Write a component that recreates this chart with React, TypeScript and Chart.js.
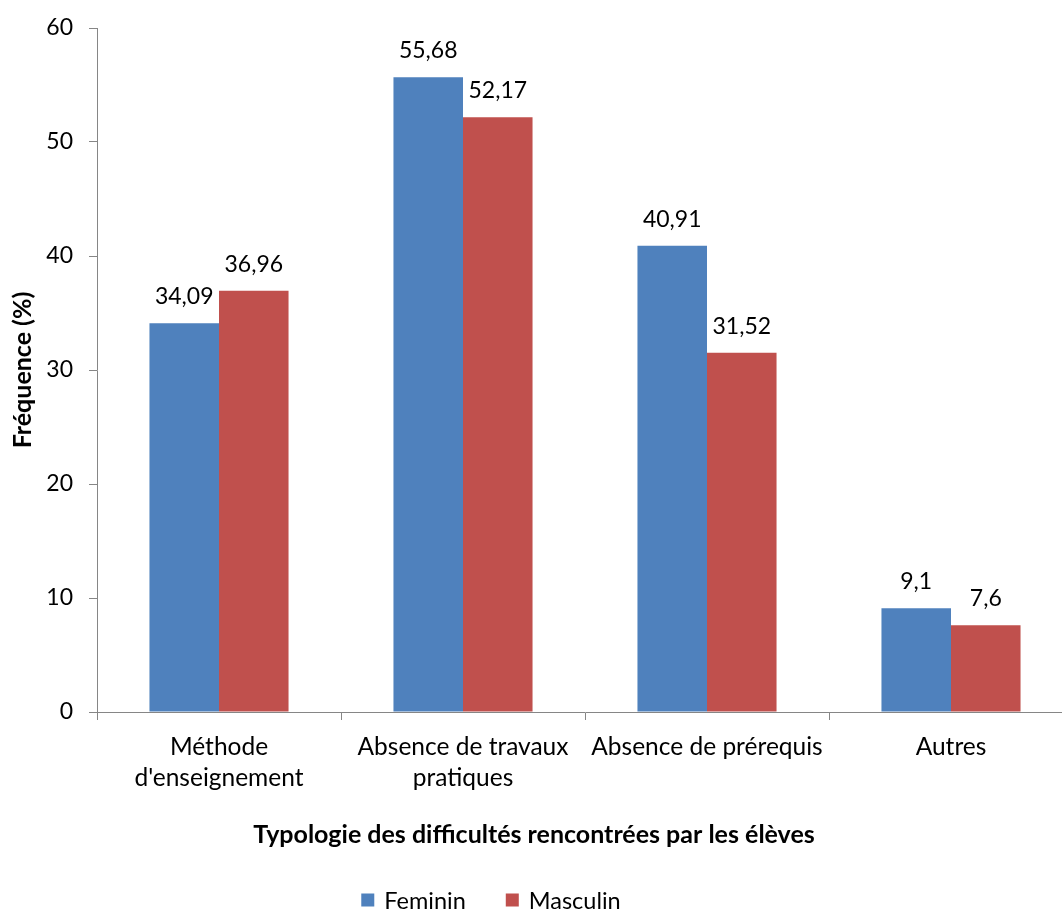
import React, { useEffect, useRef } from 'react';
import { Chart, registerables } from 'chart.js';

Chart.register(...registerables);

// Data
const categories: (string | string[])[] = [
  ['Méthode', "d'enseignement"],
  ['Absence de travaux', 'pratiques'],
  'Absence de prérequis',
  'Autres',
];
const seriesNames = ['Feminin', 'Masculin'];
const feminin = [34.09, 55.68, 40.91, 9.1];
const masculin = [36.96, 52.17, 31.52, 7.6];
const yTicks = [0, 10, 20, 30, 40, 50, 60];
const xTitle = 'Typologie des difficultés rencontrées par les élèves';
const yTitle = 'Fréquence (%)';

const BLUE = '#4F81BD';
const RED = '#C0504D';
const AXIS = '#868686';
const FONT = 'Lato, "Open Sans", sans-serif';

const fmt = (v: number) => String(v).replace('.', ',');

// Value labels above bars, x-axis title and legend drawn on the canvas
const decorations = {
  id: 'decorations',
  afterDatasetsDraw(chart: any) {
    const ctx = chart.ctx as CanvasRenderingContext2D;
    ctx.save();
    ctx.fillStyle = '#000';
    ctx.font = `23px ${FONT}`;
    ctx.textAlign = 'center';
    ctx.textBaseline = 'alphabetic';
    chart.data.datasets.forEach((ds: any, i: number) => {
      const meta = chart.getDatasetMeta(i);
      meta.data.forEach((bar: any, j: number) => {
        ctx.fillText(fmt(ds.data[j]), bar.x, bar.y - 19);
      });
    });
    ctx.restore();
  },
  afterDraw(chart: any) {
    const ctx = chart.ctx as CanvasRenderingContext2D;
    ctx.save();
    // x-axis title
    ctx.fillStyle = '#000';
    ctx.font = `bold 25px ${FONT}`;
    ctx.textAlign = 'center';
    ctx.textBaseline = 'alphabetic';
    ctx.fillText(xTitle, 534, 843);

    // legend
    ctx.font = `23.5px ${FONT}`;
    ctx.textAlign = 'left';
    ctx.textBaseline = 'middle';
    const box = 13;
    const gap = 10;
    const spacing = 40;
    const items = chart.data.datasets.map((ds: any) => ({
      label: ds.label as string,
      color: ds.backgroundColor as string,
      w: box + gap + ctx.measureText(ds.label).width,
    }));
    const total = items.reduce((s: number, it: any) => s + it.w, 0) + spacing * (items.length - 1);
    let x = 491 - total / 2;
    const cy = 900;
    items.forEach((it: any) => {
      ctx.fillStyle = it.color;
      ctx.fillRect(x, cy - box / 2, box, box);
      ctx.fillStyle = '#000';
      ctx.fillText(it.label, x + box + gap, cy + 1);
      x += it.w + spacing;
    });
    ctx.restore();
  },
};

export default function App() {
  const ref = useRef<HTMLCanvasElement | null>(null);

  useEffect(() => {
    if (!ref.current) return;
    const chart = new Chart(ref.current, {
      type: 'bar',
      data: {
        labels: categories,
        datasets: [
          { label: seriesNames[0], data: feminin, backgroundColor: BLUE, borderWidth: 0 },
          { label: seriesNames[1], data: masculin, backgroundColor: RED, borderWidth: 0 },
        ],
      },
      options: {
        responsive: false,
        devicePixelRatio: 1,
        animation: false,
        layout: { padding: { top: 28, right: 1, left: 0, bottom: 0 } },
        datasets: {
          bar: { categoryPercentage: 0.57, barPercentage: 1.0 },
        },
        plugins: {
          legend: { display: false },
          tooltip: { enabled: false },
        },
        scales: {
          x: {
            grid: {
              display: true,
              drawOnChartArea: false,
              offset: true,
              tickLength: 8,
              color: AXIS,
            },
            border: { color: AXIS, width: 1 },
            ticks: {
              color: '#000',
              font: { family: FONT, size: 24.5, lineHeight: 1.25 },
              padding: 12,
              maxRotation: 0,
              autoSkip: false,
            },
            afterFit: (s: any) => {
              s.height = 200;
            },
          },
          y: {
            min: 0,
            max: 60,
            afterBuildTicks: (s: any) => {
              s.ticks = yTicks.map((v) => ({ value: v }));
            },
            grid: {
              display: true,
              drawOnChartArea: false,
              tickLength: 8,
              color: AXIS,
            },
            border: { color: AXIS, width: 1 },
            ticks: {
              color: '#000',
              font: { family: FONT, size: 23 },
              padding: 16,
            },
            title: {
              display: true,
              text: yTitle,
              color: '#000',
              font: { family: FONT, size: 25, weight: 'bold' },
              padding: { top: 8, bottom: 0 },
            },
            afterFit: (s: any) => {
              s.width = 97;
              s.paddingTop = 0;
              s.paddingBottom = 0;
            },
          },
        },
      },
      plugins: [decorations],
    });
    return () => chart.destroy();
  }, []);

  return (
    <div
      style={{
        position: 'absolute',
        left: 0,
        top: 0,
        width: 1062,
        height: 912,
        overflow: 'hidden',
        background: '#fff',
      }}
    >
      <canvas ref={ref} width={1074} height={912} style={{ display: 'block' }} />
    </div>
  );
}
